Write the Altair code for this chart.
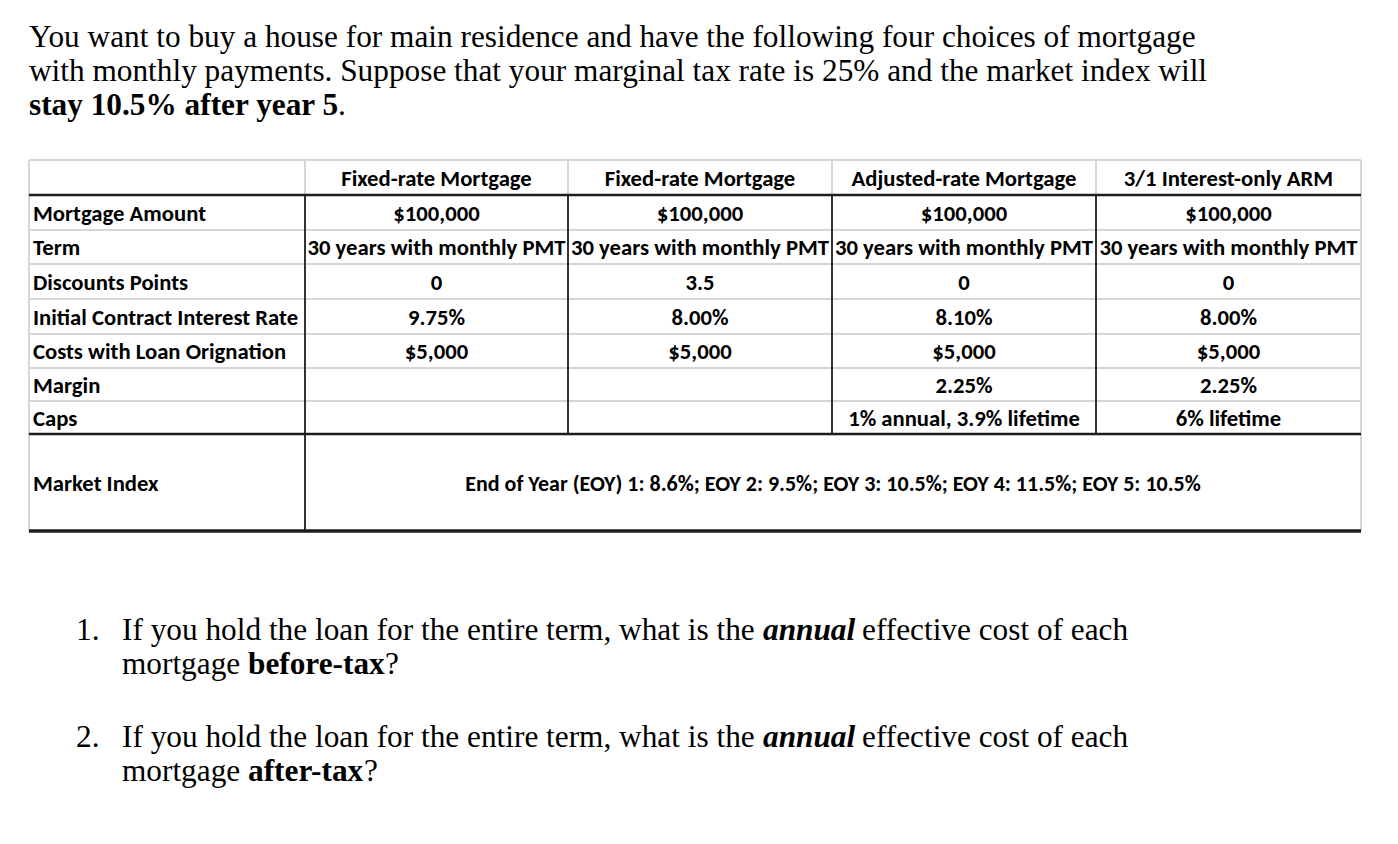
import altair as alt
import pandas as pd

# ---------------- content (data) ----------------
intro_lines = [
    "You want to buy a house for main residence and have the following four choices of mortgage",
    "with monthly payments. Suppose that your marginal tax rate is 25% and the market index will",
]
intro_bold = "stay 10.5% after year 5"
intro_end = "."

mortgage_types = ["Fixed-rate Mortgage", "Fixed-rate Mortgage",
                  "Adjusted-rate Mortgage", "3/1 Interest-only ARM"]
row_labels = ["Mortgage Amount", "Term", "Discounts Points",
              "Initial Contract Interest Rate", "Costs with Loan Orignation",
              "Margin", "Caps"]
amounts = ["$100,000", "$100,000", "$100,000", "$100,000"]
terms = ["30 years with monthly PMT"] * 4
points = ["0", "3.5", "0", "0"]
rates = ["9.75%", "8.00%", "8.10%", "8.00%"]
costs = ["$5,000", "$5,000", "$5,000", "$5,000"]
margins = ["", "", "2.25%", "2.25%"]
caps = ["", "", "1% annual, 3.9% lifetime", "6% lifetime"]
market_label = "Market Index"
market_index = "End of Year (EOY) 1: 8.6%; EOY 2: 9.5%; EOY 3: 10.5%; EOY 4: 11.5%; EOY 5: 10.5%"

question_numbers = ["1.", "2."]
question_lead = "If you hold the loan for the entire term, what is the"
question_emph = "annual"
question_tail = "effective cost of each"
question_word = "mortgage"
question_tax = ["before-tax", "after-tax"]
question_end = "?"

# ---------------- layout (page pixels) ----------------
W, H = 1382, 828
col_edges = [29, 305, 568, 832, 1096, 1361]
row_edges = [160, 195, 230, 264, 299, 334, 368, 401, 434, 531]
intro_base = [47, 81, 115]
q_base = [[640, 674], [747, 781]]
q_x = {"num": 76, "lead": 122, "emph": 763, "tail": 862, "tax": 248, "end": [385, 364]}
intro_end_x = 338
SERIF = "Liberation Serif, Times New Roman, serif"
SANS = "Carlito, Calibri, Lato, sans-serif"
SERIF_SIZE = 31.3
SANS_SIZE = 22.7
MARKET_SIZE = 22

xs = alt.Scale(domain=[8, 8 + W], range=[0, W], nice=False, zero=False)
ys = alt.Scale(domain=[8, 8 + H], range=[0, H], nice=False, zero=False)

# ---------------- text tables ----------------
serif_reg, serif_bold, serif_bi = [], [], []
for i, t in enumerate(intro_lines):
    serif_reg.append({"x": col_edges[0], "y": intro_base[i], "t": t})
serif_bold.append({"x": col_edges[0], "y": intro_base[2], "t": intro_bold})
serif_reg.append({"x": intro_end_x, "y": intro_base[2], "t": intro_end})
for k in range(2):
    b1, b2 = q_base[k]
    serif_reg.append({"x": q_x["num"], "y": b1, "t": question_numbers[k]})
    serif_reg.append({"x": q_x["lead"], "y": b1, "t": question_lead})
    serif_bi.append({"x": q_x["emph"], "y": b1, "t": question_emph})
    serif_reg.append({"x": q_x["tail"], "y": b1, "t": question_tail})
    serif_reg.append({"x": q_x["lead"], "y": b2, "t": question_word})
    serif_bold.append({"x": q_x["tax"], "y": b2, "t": question_tax[k]})
    serif_reg.append({"x": q_x["end"][k], "y": b2, "t": question_end})

row_mid = [(row_edges[i] + row_edges[i + 1]) / 2 + 1 for i in range(len(row_edges) - 1)]
col_mid = [(col_edges[i] + col_edges[i + 1]) / 2 for i in range(len(col_edges) - 1)]

tab_left, tab_center = [], []
for j, h in enumerate(mortgage_types):
    tab_center.append({"x": col_mid[j + 1], "y": row_mid[0], "t": h})
cols = [amounts, terms, points, rates, costs, margins, caps]
for r, lab in enumerate(row_labels):
    tab_left.append({"x": col_edges[0] + 4, "y": row_mid[r + 1], "t": lab})
    for j in range(4):
        if cols[r][j]:
            tab_center.append({"x": col_mid[j + 1], "y": row_mid[r + 1], "t": cols[r][j]})
tab_left.append({"x": col_edges[0] + 4, "y": row_mid[8], "t": market_label})
market_rows = [{"x": (col_edges[1] + col_edges[5]) / 2, "y": row_mid[8], "t": market_index}]

# ---------------- rules ----------------
GREY, BLK = "#d6d6d6", "#1c1c1c"
rules = []
rules.append({"x": col_edges[0], "x2": col_edges[5], "y": row_edges[0], "y2": row_edges[0], "c": GREY, "w": 2})
for yv in row_edges[2:8]:
    rules.append({"x": col_edges[0], "x2": col_edges[5], "y": yv, "y2": yv, "c": GREY, "w": 2})
for xv in col_edges[1:5]:
    rules.append({"x": xv, "x2": xv, "y": row_edges[0], "y2": row_edges[1], "c": GREY, "w": 2})
for xv in [col_edges[0], col_edges[5]]:
    rules.append({"x": xv, "x2": xv, "y": row_edges[0], "y2": row_edges[9], "c": GREY, "w": 2})
rules.append({"x": col_edges[1], "x2": col_edges[1], "y": row_edges[1], "y2": row_edges[9], "c": BLK, "w": 1.8})
for xv in col_edges[2:5]:
    rules.append({"x": xv, "x2": xv, "y": row_edges[1], "y2": row_edges[8], "c": BLK, "w": 1.8})
for yv, w in [(row_edges[1], 2.6), (row_edges[8], 2.6), (row_edges[9], 3.4)]:
    rules.append({"x": col_edges[0], "x2": col_edges[5], "y": yv, "y2": yv, "c": BLK, "w": w})


def pos():
    return dict(x=alt.X("x:Q", scale=xs, axis=None), y=alt.Y("y:Q", scale=ys, axis=None))


rule_layer = alt.Chart(pd.DataFrame(rules)).mark_rule().encode(
    x=alt.X("x:Q", scale=xs, axis=None), x2="x2:Q",
    y=alt.Y("y:Q", scale=ys, axis=None), y2="y2:Q",
    color=alt.Color("c:N", scale=None), size=alt.Size("w:Q", scale=None),
)


def text_layer(rows, **kw):
    return alt.Chart(pd.DataFrame(rows)).mark_text(color="black", **kw).encode(
        text="t:N", **pos())


layers = [
    rule_layer,
    text_layer(serif_reg, font=SERIF, fontSize=SERIF_SIZE, align="left", baseline="alphabetic"),
    text_layer(serif_bold, font=SERIF, fontSize=SERIF_SIZE, fontWeight="bold", align="left",
               baseline="alphabetic"),
    text_layer(serif_bi, font=SERIF, fontSize=SERIF_SIZE, fontWeight="bold", fontStyle="italic",
               align="left", baseline="alphabetic"),
    text_layer(tab_left, font=SANS, fontSize=SANS_SIZE, fontWeight="bold", align="left",
               baseline="middle"),
    text_layer(tab_center, font=SANS, fontSize=SANS_SIZE, fontWeight="bold", align="center",
               baseline="middle"),
    text_layer(market_rows, font=SANS, fontSize=MARKET_SIZE, fontWeight="bold", align="center",
               baseline="middle"),
]

chart = alt.layer(*layers).properties(width=W, height=H, padding=0).configure_view(stroke=None)
chart.save("out.html", embed_options={"renderer": "svg", "actions": False})
